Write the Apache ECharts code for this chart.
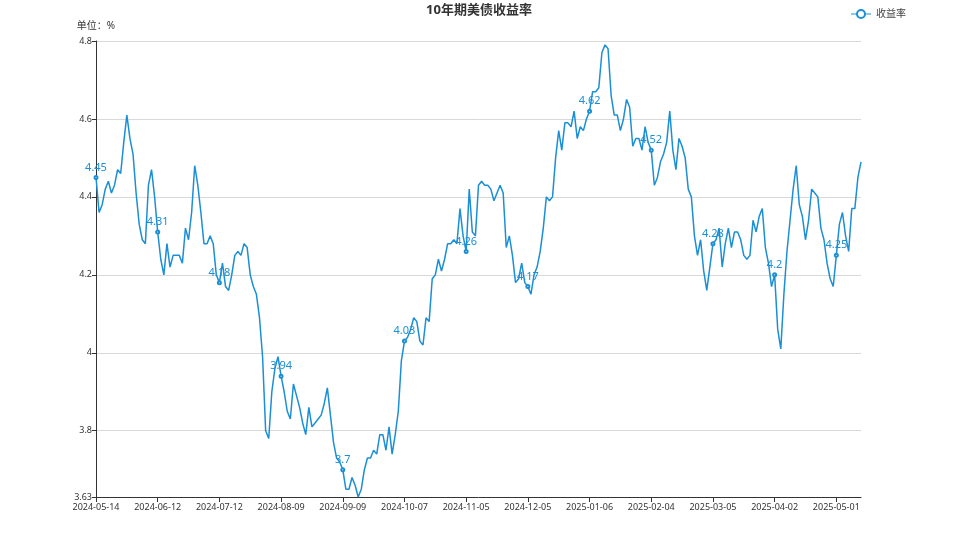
<!DOCTYPE html>
<html>
<head>
<meta charset="utf-8">
<script src="https://cdn.jsdelivr.net/npm/echarts@6/dist/echarts.min.js"></script>
<style>
html,body{margin:0;padding:0;background:#fff;}
#c{width:958px;height:539px;}
</style>
</head>
<body>
<div id="c"></div>
<script>
const dates = [
"2024-05-14","2024-05-15","2024-05-16","2024-05-17","2024-05-20","2024-05-21","2024-05-22","2024-05-23","2024-05-24","2024-05-28","2024-05-29","2024-05-30","2024-05-31",
"2024-06-03","2024-06-04","2024-06-05","2024-06-06","2024-06-07","2024-06-10","2024-06-11","2024-06-12","2024-06-13","2024-06-14","2024-06-17","2024-06-18","2024-06-20","2024-06-21","2024-06-24","2024-06-25","2024-06-26","2024-06-27","2024-06-28",
"2024-07-01","2024-07-02","2024-07-03","2024-07-05","2024-07-08","2024-07-09","2024-07-10","2024-07-11","2024-07-12","2024-07-15","2024-07-16","2024-07-17","2024-07-18","2024-07-19","2024-07-22","2024-07-23","2024-07-24","2024-07-25","2024-07-26","2024-07-29","2024-07-30","2024-07-31",
"2024-08-01","2024-08-02","2024-08-05","2024-08-06","2024-08-07","2024-08-08","2024-08-09","2024-08-12","2024-08-13","2024-08-14","2024-08-15","2024-08-16","2024-08-19","2024-08-20","2024-08-21","2024-08-22","2024-08-23","2024-08-26","2024-08-27","2024-08-28","2024-08-29","2024-08-30",
"2024-09-03","2024-09-04","2024-09-05","2024-09-06","2024-09-09","2024-09-10","2024-09-11","2024-09-12","2024-09-13","2024-09-16","2024-09-17","2024-09-18","2024-09-19","2024-09-20","2024-09-23","2024-09-24","2024-09-25","2024-09-26","2024-09-27","2024-09-30",
"2024-10-01","2024-10-02","2024-10-03","2024-10-04","2024-10-07","2024-10-08","2024-10-09","2024-10-10","2024-10-11","2024-10-15","2024-10-16","2024-10-17","2024-10-18","2024-10-21","2024-10-22","2024-10-23","2024-10-24","2024-10-25","2024-10-28","2024-10-29","2024-10-30","2024-10-31",
"2024-11-01","2024-11-04","2024-11-05","2024-11-06","2024-11-07","2024-11-08","2024-11-12","2024-11-13","2024-11-14","2024-11-15","2024-11-18","2024-11-19","2024-11-20","2024-11-21","2024-11-22","2024-11-25","2024-11-26","2024-11-27","2024-11-29",
"2024-12-02","2024-12-03","2024-12-04","2024-12-05","2024-12-06","2024-12-09","2024-12-10","2024-12-11","2024-12-12","2024-12-13","2024-12-16","2024-12-17","2024-12-18","2024-12-19","2024-12-20","2024-12-23","2024-12-24","2024-12-26","2024-12-27","2024-12-30","2024-12-31",
"2025-01-02","2025-01-03","2025-01-06","2025-01-07","2025-01-08","2025-01-09","2025-01-10","2025-01-13","2025-01-14","2025-01-15","2025-01-16","2025-01-17","2025-01-21","2025-01-22","2025-01-23","2025-01-24","2025-01-27","2025-01-28","2025-01-29","2025-01-30","2025-01-31",
"2025-02-03","2025-02-04","2025-02-05","2025-02-06","2025-02-07","2025-02-10","2025-02-11","2025-02-12","2025-02-13","2025-02-14","2025-02-18","2025-02-19","2025-02-20","2025-02-21","2025-02-24","2025-02-25","2025-02-26","2025-02-27","2025-02-28",
"2025-03-03","2025-03-04","2025-03-05","2025-03-06","2025-03-07","2025-03-10","2025-03-11","2025-03-12","2025-03-13","2025-03-14","2025-03-17","2025-03-18","2025-03-19","2025-03-20","2025-03-21","2025-03-24","2025-03-25","2025-03-26","2025-03-27","2025-03-28","2025-03-31",
"2025-04-01","2025-04-02","2025-04-03","2025-04-04","2025-04-07","2025-04-08","2025-04-09","2025-04-10","2025-04-11","2025-04-14","2025-04-15","2025-04-16","2025-04-17","2025-04-21","2025-04-22","2025-04-23","2025-04-24","2025-04-25","2025-04-28","2025-04-29","2025-04-30",
"2025-05-01","2025-05-02","2025-05-05","2025-05-06","2025-05-07","2025-05-08","2025-05-09","2025-05-12","2025-05-13"
];

const yields = [
4.45,4.36,4.38,4.42,4.44,4.41,4.43,4.47,4.46,4.54,4.61,4.55,4.51,
4.41,4.33,4.29,4.28,4.43,4.47,4.40,4.31,4.24,4.20,4.28,4.22,4.25,4.25,4.25,4.23,4.32,4.29,4.36,
4.48,4.43,4.36,4.28,4.28,4.30,4.28,4.20,4.18,4.23,4.17,4.16,4.20,4.25,4.26,4.25,4.28,4.27,4.20,4.17,4.15,4.09,
3.99,3.80,3.78,3.90,3.96,3.99,3.94,3.90,3.85,3.83,3.92,3.89,3.86,3.82,3.79,3.86,3.81,3.82,3.83,3.84,3.87,3.91,
3.84,3.77,3.73,3.72,3.70,3.65,3.65,3.68,3.66,3.63,3.65,3.70,3.73,3.73,3.75,3.74,3.79,3.79,3.75,3.81,
3.74,3.79,3.85,3.98,4.03,4.04,4.06,4.09,4.08,4.03,4.02,4.09,4.08,4.19,4.20,4.24,4.21,4.24,4.28,4.28,4.29,4.28,
4.37,4.30,4.26,4.42,4.31,4.30,4.43,4.44,4.43,4.43,4.42,4.39,4.41,4.43,4.41,4.27,4.30,4.25,4.18,
4.19,4.23,4.18,4.17,4.15,4.20,4.22,4.26,4.32,4.40,4.39,4.40,4.50,4.57,4.52,4.59,4.59,4.58,4.62,4.55,4.58,
4.57,4.60,4.62,4.67,4.67,4.68,4.77,4.79,4.78,4.66,4.61,4.61,4.57,4.60,4.65,4.63,4.53,4.55,4.55,4.52,4.58,
4.54,4.52,4.43,4.45,4.49,4.51,4.54,4.62,4.52,4.47,4.55,4.53,4.50,4.42,4.40,4.30,4.25,4.29,4.21,
4.16,4.22,4.28,4.29,4.32,4.22,4.28,4.32,4.27,4.31,4.31,4.29,4.25,4.24,4.25,4.34,4.31,4.35,4.37,4.27,4.23,
4.17,4.20,4.06,4.01,4.15,4.26,4.34,4.42,4.48,4.38,4.35,4.29,4.34,4.42,4.41,4.40,4.32,4.29,4.23,4.19,4.17,
4.25,4.33,4.36,4.30,4.26,4.37,4.37,4.45,4.49
];

const titleText = "10年期美债收益率";
const seriesName = "收益率";
const unitText = "单位：%";
const yMin = 3.63;
const yMax = 4.8;

const lineColor = "#1a8fd5";
const font = "'Noto Sans', 'Noto Sans CJK SC', sans-serif";

const chart = echarts.init(document.getElementById('c'));
chart.setOption({
  animation: false,
  textStyle: { fontFamily: font },
  title: {
    text: titleText,
    left: 'center',
    top: -1,
    textStyle: { fontSize: 13, fontWeight: 'bold', color: '#333', fontFamily: font }
  },
  legend: {
    data: [seriesName],
    right: 47,
    top: 4,
    itemWidth: 20,
    itemHeight: 10,
    itemStyle: { borderWidth: 1 },
    lineStyle: { width: 1 },
    textStyle: { fontSize: 10, color: '#444' }
  },
  grid: { left: 96, right: 97, top: 41, bottom: 42, containLabel: false },
  xAxis: {
    type: 'category',
    data: dates,
    boundaryGap: false,
    axisLine: { lineStyle: { color: '#333' } },
    axisTick: { interval: 19, lineStyle: { color: '#333' } },
    axisLabel: { interval: 19, fontSize: 9, color: '#333', margin: 6 }
  },
  yAxis: {
    type: 'value',
    min: yMin,
    max: yMax,
    name: unitText,
    nameGap: 10,
    nameTextStyle: { fontSize: 10, color: '#333', align: 'center' },
    axisLine: { show: true, lineStyle: { color: '#333' } },
    axisTick: { show: true, length: 4, lineStyle: { color: '#333' } },
    axisLabel: { fontSize: 9, color: '#333', margin: 4 },
    splitLine: { lineStyle: { color: '#d9d9d9' } }
  },
  series: [{
    name: seriesName,
    type: 'line',
    data: yields,
    symbol: 'emptyCircle',
    symbolSize: 3,
    showAllSymbol: 'auto',
    lineStyle: { color: lineColor, width: 1.5 },
    itemStyle: { color: lineColor, borderWidth: 1 },
    label: { show: true, position: 'top', distance: 2, fontSize: 11, color: lineColor }
  }]
});
</script>
</body>
</html>
